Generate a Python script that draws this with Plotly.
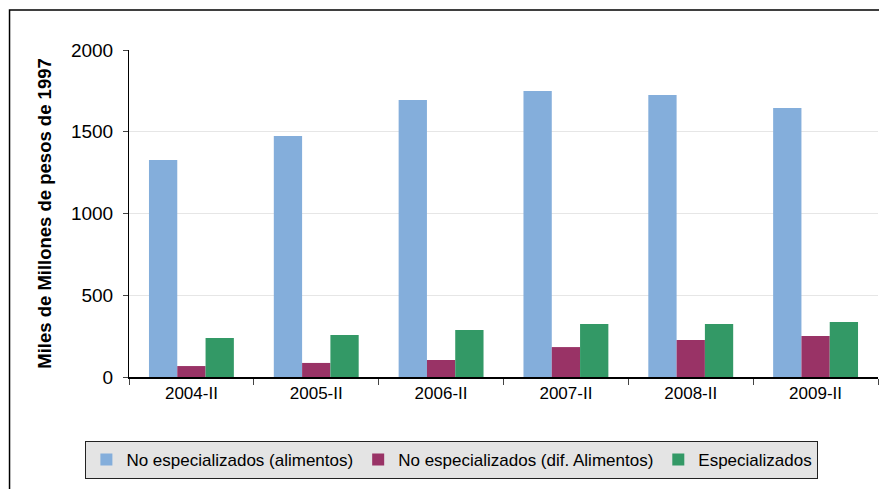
import plotly.graph_objects as go

periodos = ["2004-II", "2005-II", "2006-II", "2007-II", "2008-II", "2009-II"]
no_esp_alimentos = [1327, 1474, 1694, 1749, 1725, 1645]
no_esp_dif_alimentos = [67, 86, 104, 183, 226, 251]
especializados = [239, 257, 287, 324, 324, 336]

fig = go.Figure()
fig.add_bar(x=periodos, y=no_esp_alimentos, name="No especializados (alimentos)",
            marker=dict(color="#84AEDB", line=dict(width=0)))
fig.add_bar(x=periodos, y=no_esp_dif_alimentos, name="No especializados (dif. Alimentos)",
            marker=dict(color="#993366", line=dict(width=0)))
fig.add_bar(x=periodos, y=especializados, name="Especializados",
            marker=dict(color="#339966", line=dict(width=0)))

# outer chart border (cropped on right/bottom like the reference)
fig.add_shape(type="rect", xref="paper", yref="paper",
              x0=-0.1595, x1=1.03, y0=-0.45, y1=1.122,
              line=dict(color="#000000", width=1.5), layer="below")

fig.update_layout(
    width=879, height=481,
    margin=dict(l=121, r=9, t=42, b=112, autoexpand=False),
    paper_bgcolor="white", plot_bgcolor="white",
    barmode="group", bargap=0.32, bargroupgap=0,
    font=dict(family="Liberation Sans, Arial, sans-serif", color="#000000", size=17),
    showlegend=True,
    legend=dict(orientation="h", xref="container", yref="container",
                x=0.505, xanchor="center", y=0.021, yanchor="bottom",
                bgcolor="#E4E4E4", bordercolor="#222222", borderwidth=1,
                font=dict(size=17), itemwidth=30, tracegroupgap=0),
)
fig.update_yaxes(range=[0, 2000], dtick=500, showgrid=True, gridcolor="#E6E6E6",
                 showline=True, linecolor="#000000", linewidth=1,
                 ticks="outside", ticklen=5, tickcolor="#444444",
                 tickfont=dict(size=19), ticklabelstandoff=6, zeroline=False,
                 title=dict(text="<b>Miles de Millones de pesos de 1997</b>",
                            font=dict(size=18.5), standoff=14))
fig.update_xaxes(showline=True, linecolor="#000000", linewidth=1.5,
                 ticks="outside", ticklen=6, tickcolor="#444444",
                 tickson="boundaries", tickfont=dict(size=17))

fig.write_html("out.html")
